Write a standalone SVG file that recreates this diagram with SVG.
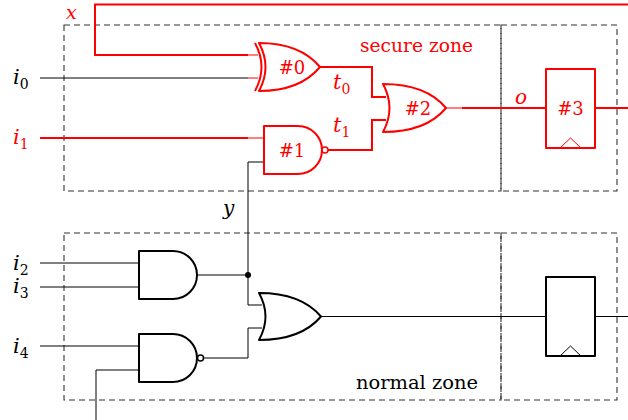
<svg xmlns="http://www.w3.org/2000/svg" width="628" height="420" viewBox="0 0 628 420">
<style>
.zone{fill:none;stroke:#333;stroke-width:1.1;stroke-dasharray:6 4}
.g{fill:#fff;stroke:#000;stroke-width:2;stroke-linejoin:round}
.gr{fill:#fff;stroke:#f00;stroke-width:2;stroke-linejoin:round}
.w{fill:none;stroke:#000;stroke-width:1}
.wr{fill:none;stroke:#f00;stroke-width:2}
.wrt{fill:none;stroke:#f00;stroke-width:1}
.red{fill:#f00}
</style>
<rect width="628" height="420" fill="#fff"/>
<g id="zones">
<rect class="zone" x="64" y="25" width="437" height="166"/>
<rect class="zone" x="501" y="25" width="116" height="166"/>
<rect class="zone" x="64" y="233" width="437" height="167"/>
<rect class="zone" x="501" y="233" width="116" height="167"/>
</g>
<g id="connectors">
<polyline class="wr" points="628,4.5 95,4.5 95,55 248,55"/>
<line class="wrt" x1="248" y1="55" x2="258" y2="55"/>
<line class="w" x1="40" y1="78" x2="248" y2="78"/>
<line class="wrt" x1="248" y1="78" x2="258" y2="78"/>
<line class="wr" x1="40" y1="138" x2="248" y2="138"/>
<line class="wrt" x1="248" y1="138" x2="264" y2="138"/>
<polyline class="w" points="264,162 248,162 248,305 262,305"/>
<polyline class="wr" points="320,67 372,67 372,97 386,97"/>
<polyline class="wr" points="328,150 372,150 372,120 386,120"/>
<line class="wrt" x1="446" y1="108" x2="462" y2="108"/>
<line class="wr" x1="462" y1="108" x2="546" y2="108"/>
<line class="wr" x1="595" y1="108" x2="628" y2="108"/>
<line class="w" x1="40" y1="263" x2="139" y2="263"/>
<line class="w" x1="40" y1="287" x2="139" y2="287"/>
<line class="w" x1="197" y1="275" x2="248" y2="275"/>
<circle cx="248" cy="275" r="3" fill="#000"/>
<line class="w" x1="40" y1="346" x2="139" y2="346"/>
<polyline class="w" points="96,420 96,370 139,370"/>
<polyline class="w" points="204,358 248,358 248,328 262,328"/>
<line class="w" x1="321" y1="316.5" x2="546" y2="316.5"/>
<line class="w" x1="595" y1="316.5" x2="628" y2="316.5"/>
</g>
<g id="g0">
<path class="gr" d="M259,43 Q300,43 320,67 Q300,91 259,91 Q272,67 259,43 Z"/>
<path fill="none" stroke="#f00" stroke-width="2" d="M255,43 Q268,67 255,91"/>
<text class="red" font-family="DejaVu Serif, serif" font-size="18" x="292" y="74" text-anchor="middle">#0</text>
</g>
<g id="g1">
<path class="gr" d="M264,126 H298 A24,24 0 0 1 298,174 H264 Z"/>
<circle cx="325" cy="150" r="3" fill="#fff" stroke="#f00" stroke-width="1.5"/>
<text class="red" font-family="DejaVu Serif, serif" font-size="18" x="292" y="157" text-anchor="middle">#1</text>
</g>
<g id="g2">
<path class="gr" d="M383,84 Q426,84 446,108 Q426,132 383,132 Q396,108 383,84 Z"/>
<text class="red" font-family="DejaVu Serif, serif" font-size="18" x="418" y="115" text-anchor="middle">#2</text>
</g>
<g id="g3">
<rect class="gr" x="546" y="69" width="49" height="79"/>
<polyline fill="none" stroke="#f00" stroke-width="1" points="560,148 570.5,138 581,148"/>
<text class="red" font-family="DejaVu Serif, serif" font-size="18" x="570.5" y="115" text-anchor="middle">#3</text>
</g>
<g id="g4">
<path class="g" d="M139,251 H173 A24,24 0 0 1 173,299 H139 Z"/>
</g>
<g id="g5">
<path class="g" d="M139,334 H173 A24,24 0 0 1 173,382 H139 Z"/>
<circle cx="200.5" cy="358" r="3" fill="#fff" stroke="#000" stroke-width="1.5"/>
</g>
<g id="g6">
<path class="g" d="M259,293 Q301,293 321,316.5 Q301,340 259,340 Q272,316.5 259,293 Z"/>
</g>
<g id="g7">
<rect class="g" x="546" y="277" width="49" height="79"/>
<polyline fill="none" stroke="#000" stroke-width="1" points="560,356 570.5,346 581,356"/>
</g>
<g id="labels">
<text class="red" font-family="DejaVu Serif, serif" font-size="18" x="360" y="52" textLength="113" lengthAdjust="spacingAndGlyphs">secure zone</text>
<text font-family="DejaVu Serif, serif" font-size="18" x="356" y="389" textLength="122" lengthAdjust="spacingAndGlyphs">normal zone</text>
<text class="red" font-family="DejaVu Serif, serif" font-style="italic" font-size="19" x="66" y="19">x</text>
<text font-family="DejaVu Serif, serif" font-style="italic" font-size="21" x="13" y="84">i<tspan font-style="normal" font-size="14" dy="5">0</tspan></text>
<text class="red" font-family="DejaVu Serif, serif" font-style="italic" font-size="21" x="13" y="144">i<tspan font-style="normal" font-size="14" dy="5">1</tspan></text>
<text class="red" font-family="DejaVu Serif, serif" font-style="italic" font-size="21" x="333" y="89">t<tspan font-style="normal" font-size="14" dy="5">0</tspan></text>
<text class="red" font-family="DejaVu Serif, serif" font-style="italic" font-size="21" x="333" y="132">t<tspan font-style="normal" font-size="14" dy="5">1</tspan></text>
<text class="red" font-family="DejaVu Serif, serif" font-style="italic" font-size="20" x="515" y="104">o</text>
<text font-family="DejaVu Serif, serif" font-style="italic" font-size="20" x="223" y="215">y</text>
<text font-family="DejaVu Serif, serif" font-style="italic" font-size="21" x="13" y="270">i<tspan font-style="normal" font-size="14" dy="5">2</tspan></text>
<text font-family="DejaVu Serif, serif" font-style="italic" font-size="21" x="13" y="293">i<tspan font-style="normal" font-size="14" dy="5">3</tspan></text>
<text font-family="DejaVu Serif, serif" font-style="italic" font-size="21" x="13" y="353">i<tspan font-style="normal" font-size="14" dy="5">4</tspan></text>
</g>
</svg>
